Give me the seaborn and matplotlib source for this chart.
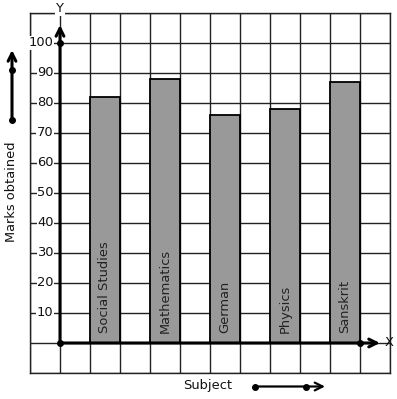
import matplotlib
matplotlib.use("Agg")
import matplotlib.pyplot as plt
import seaborn as sns
import pandas as pd
import numpy as np

subjects = ["Social Studies", "Mathematics", "German", "Physics", "Sanskrit"]
marks = [82, 88, 76, 78, 87]
y_tick_values = [10, 20, 30, 40, 50, 60, 70, 80, 90, 100]

sns.set_style("white")
plt.rcParams['font.family'] = ['DejaVu Sans']

W, H = 397, 399
fig = plt.figure(figsize=(W / 100, H / 100), dpi=100)
ax = fig.add_axes([30 / W, 26 / H, 360 / W, 360 / H])

df = pd.DataFrame({"Subject": subjects, "Marks": marks})
sns.barplot(data=df, x="Subject", y="Marks", ax=ax, color="#999999",
            width=0.5, edgecolor="black", linewidth=1.3, saturation=1, zorder=3)

ax.set_xlim(-1.25, 4.75)
ax.set_ylim(-10, 110)
ax.set_xticks([])
ax.set_yticks([])
ax.set_xlabel("")
ax.set_ylabel("")

# grid
for gx in np.arange(-1.25, 4.76, 0.5):
    ax.axvline(gx, color="#222222", lw=1.0, zorder=1)
for gy in range(-10, 111, 10):
    ax.axhline(gy, color="#222222", lw=1.0, zorder=1)
for s in ax.spines.values():
    s.set_color("#222222")
    s.set_linewidth(1.0)

ox = -0.75
# axes lines with arrows
ax.annotate("", xy=(ox, 106), xytext=(ox, 0),
            arrowprops=dict(arrowstyle="->", lw=2.2, color="black",
                            mutation_scale=14, shrinkA=0, shrinkB=0), zorder=5)
ax.annotate("", xy=(4.583, 0), xytext=(ox, 0),
            arrowprops=dict(arrowstyle="->", lw=2.2, color="black",
                            mutation_scale=14, shrinkA=0, shrinkB=0), zorder=5)
ax.plot([ox, ox, 4.25], [0, 100, 0], "o", color="black", ms=4, zorder=6)

fs = 9.4
for v in y_tick_values:
    ax.text(ox - 0.11, v, str(v), ha="right", va="center", fontsize=fs,
            color="#111111", zorder=4,
            bbox=dict(facecolor="white", edgecolor="none", pad=0.3))

# bar labels
for i, s in enumerate(subjects):
    ax.text(i, 3.3, s, rotation=90, ha="center", va="bottom", fontsize=fs,
            color="#222222", zorder=4)

ax.text(4.74, 0, "X", ha="center", va="center", fontsize=fs, color="#111111",
        transform=ax.transData, clip_on=False)
fig.text(60 / W, 1 - 9 / H, "Y", ha="center", va="center", fontsize=fs,
         color="#111111", bbox=dict(facecolor="white", edgecolor="none", pad=0.5),
         zorder=10)

fig.text(12 / W, 1 - 192 / H, "Marks obtained", rotation=90, ha="center",
         va="center", fontsize=fs, color="#111111")
fig.text(208 / W, 1 - 385 / H, "Subject", ha="center", va="center",
         fontsize=fs, color="#111111")

# decorative arrows outside the plot
fig.add_artist(matplotlib.patches.FancyArrowPatch(
    (12 / W, 1 - 120 / H), (12 / W, 1 - 50 / H), transform=fig.transFigure,
    arrowstyle="->", lw=2.2, color="black", mutation_scale=14,
    shrinkA=0, shrinkB=0))
fig.add_artist(matplotlib.lines.Line2D([12 / W, 12 / W], [1 - 120 / H, 1 - 70 / H],
                                       transform=fig.transFigure, marker="o",
                                       ms=4, lw=0, color="black"))
fig.add_artist(matplotlib.patches.FancyArrowPatch(
    (255 / W, 1 - 386.5 / H), (325 / W, 1 - 386.5 / H), transform=fig.transFigure,
    arrowstyle="->", lw=1.6, color="black", mutation_scale=14,
    shrinkA=0, shrinkB=0))
fig.add_artist(matplotlib.lines.Line2D([255 / W, 306 / W], [1 - 386.5 / H, 1 - 386.5 / H],
                                       transform=fig.transFigure, marker="o",
                                       ms=4, lw=0, color="black"))

fig.savefig("out.png", dpi=100, facecolor="white")
